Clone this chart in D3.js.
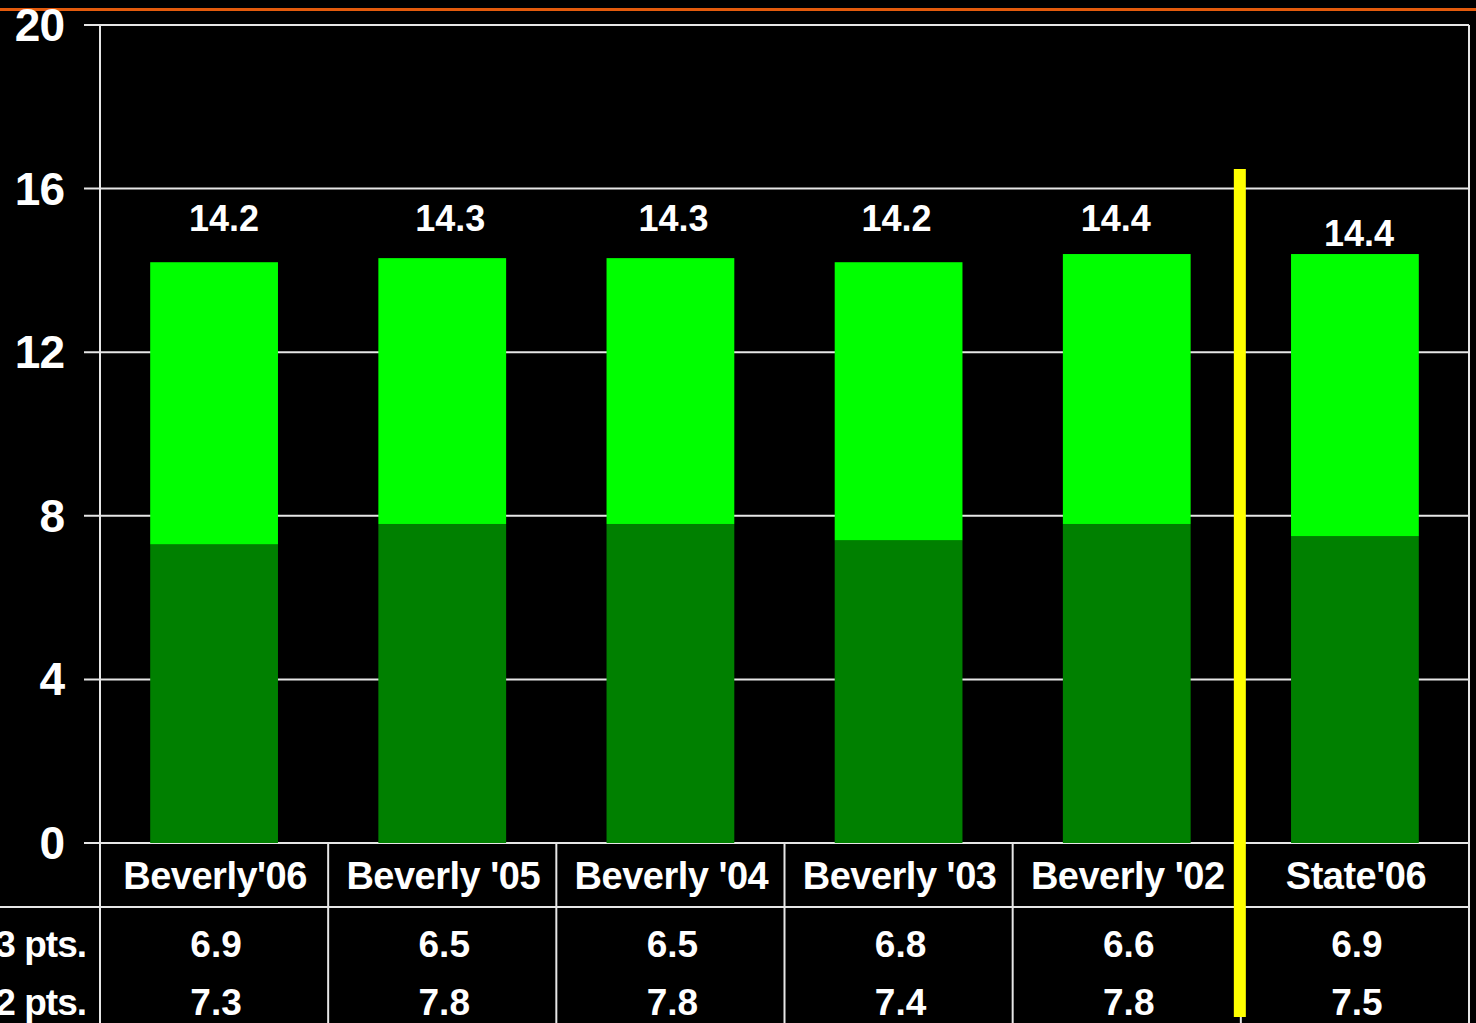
<!DOCTYPE html>
<html><head><meta charset="utf-8">
<script src="https://cdn.jsdelivr.net/npm/d3@7"></script>
<style>html,body{margin:0;padding:0;background:#000;overflow:hidden}svg{display:block}text{font-family:"Liberation Sans",Arial,sans-serif;font-weight:bold;fill:#fff}</style>
</head><body><svg id="c" width="1476" height="1023"></svg>
<script>
const categories = ["Beverly'06", "Beverly '05", "Beverly '04", "Beverly '03", "Beverly '02", "State'06"];
const pts2 = [7.3, 7.8, 7.8, 7.4, 7.8, 7.5];
const pts3 = [6.9, 6.5, 6.5, 6.8, 6.6, 6.9];
const totals = [14.2, 14.3, 14.3, 14.2, 14.4, 14.4];
const yTicks = [0, 4, 8, 12, 16, 20];
const rowLabels = ["3 pts.", "2 pts."];

const svg = d3.select("#c");
const W = 1476, H = 1023;
const L = 100, R = 1469, T = 25, B = 843;
const y = d3.scaleLinear().domain([0, 20]).range([B, T]);
const xCol = d3.scaleBand().domain(categories).range([L, R]).padding(0);
const xBar = d3.scaleBand().domain(categories).range([L, R]).paddingInner(0.44).paddingOuter(0.22);
const grid = "#e6e6e6";
// hand-placed label nudges seen in the slide (style only)
const totalDx = [10, 8, 3, -2, -11, 4];

// orange top rule
svg.append("line").attr("x1", 0).attr("x2", W).attr("y1", 9.5).attr("y2", 9.5).attr("stroke", "#e35a0c").attr("stroke-width", 3);

// gridlines + tick marks
svg.append("g").selectAll("line").data(yTicks).join("line")
  .attr("x1", 84).attr("x2", R).attr("y1", d => y(d)).attr("y2", d => y(d))
  .attr("stroke", grid).attr("stroke-width", 2);

// y labels
svg.append("g").selectAll("text").data(yTicks).join("text")
  .attr("x", 64).attr("y", d => y(d) + 16).attr("text-anchor", "end")
  .attr("font-size", 46).style("letter-spacing", "-1px").text(d => d);

// stacked bars
const stack = categories.map((c, i) => ({c, a: pts2[i], b: pts3[i]}));
svg.append("g").selectAll("rect").data(stack).join("rect")
  .attr("x", d => xBar(d.c)).attr("width", xBar.bandwidth())
  .attr("y", d => y(d.a)).attr("height", d => y(0) - y(d.a)).attr("fill", "#008000");
svg.append("g").selectAll("rect").data(stack).join("rect")
  .attr("x", d => xBar(d.c)).attr("width", xBar.bandwidth())
  .attr("y", d => y(d.a + d.b)).attr("height", d => y(d.a) - y(d.a + d.b)).attr("fill", "#00ff00");

// total labels
svg.append("g").selectAll("text").data(categories).join("text")
  .attr("x", (d, i) => xCol(d) + xCol.bandwidth() / 2 + totalDx[i])
  .attr("y", (d, i) => i === categories.length - 1 ? 246 : 231)
  .attr("text-anchor", "middle").attr("font-size", 36).text((d, i) => totals[i].toFixed(1));

// frame lines
svg.append("line").attr("x1", L).attr("x2", L).attr("y1", T).attr("y2", H).attr("stroke", grid).attr("stroke-width", 2);
svg.append("line").attr("x1", R).attr("x2", R).attr("y1", T).attr("y2", H).attr("stroke", grid).attr("stroke-width", 2);
svg.append("line").attr("x1", 0).attr("x2", R).attr("y1", 907).attr("y2", 907).attr("stroke", grid).attr("stroke-width", 2);
svg.append("g").selectAll("line").data(categories.slice(1)).join("line")
  .attr("x1", d => xCol(d)).attr("x2", d => xCol(d)).attr("y1", B).attr("y2", H)
  .attr("stroke", grid).attr("stroke-width", 2);

// category labels
svg.append("g").selectAll("text").data(categories).join("text")
  .attr("x", d => xCol(d) + xCol.bandwidth() / 2 + 1).attr("y", 889)
  .attr("text-anchor", "middle").attr("font-size", 38).style("letter-spacing", "-0.5px").text(d => d);

// table rows
const rows = [pts3, pts2];
const rowY = [957, 1015];
rows.forEach((vals, r) => {
  svg.append("text").attr("x", 86).attr("y", rowY[r]).attr("text-anchor", "end")
    .attr("font-size", 37).style("letter-spacing", "-1px").text(rowLabels[r]);
  svg.append("g").selectAll("text").data(categories).join("text")
    .attr("x", d => xCol(d) + xCol.bandwidth() / 2 + 2).attr("y", rowY[r])
    .attr("text-anchor", "middle").attr("font-size", 37).text((d, i) => vals[i].toFixed(1));
});

// yellow separator
const sep = xCol(categories[categories.length - 1]);
svg.append("rect").attr("x", sep - 7).attr("width", 12).attr("y", 169).attr("height", 848).attr("fill", "#ffff00");
</script></body></html>
